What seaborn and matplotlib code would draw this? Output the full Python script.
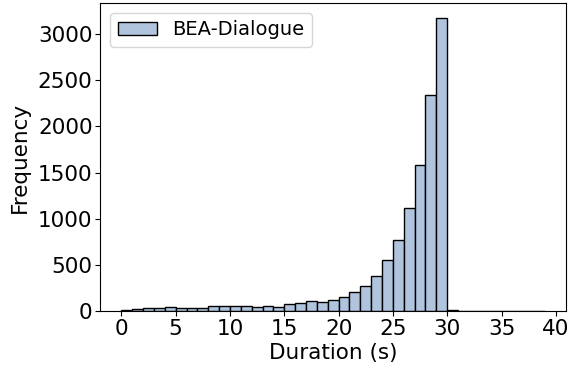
import numpy as np
import pandas as pd
import matplotlib
matplotlib.use("Agg")
import matplotlib.pyplot as plt
import seaborn as sns

bin_edges = list(range(0, 40))
counts = [10, 20, 35, 35, 45, 38, 37, 30, 54, 52, 52, 55, 48, 60, 50, 76, 83, 105, 97, 123,
          158, 206, 276, 380, 555, 775, 1115, 1585, 2335, 3175,
          12, 4, 3, 2, 2, 2, 1, 1, 1]
label = "BEA-Dialogue"

centers = [e + 0.5 for e in bin_edges[:-1]]
df = pd.DataFrame({"Duration (s)": centers, "w": counts})

plt.rcParams['font.family'] = ['DejaVu Sans']
fig = plt.figure(figsize=(5.69, 3.74), dpi=100)
ax = fig.add_axes([0.176, 0.168, 0.819, 0.824])
sns.histplot(data=df, x="Duration (s)", weights="w", bins=bin_edges,
             color="lightsteelblue", alpha=1.0, edgecolor="black", linewidth=1.0,
             label=label, ax=ax)
ax.set_xlabel("Duration (s)", fontsize=15.5, labelpad=3)
ax.set_ylabel("Frequency", fontsize=15.5, labelpad=6)
ax.tick_params(labelsize=15.5, pad=2)
ax.set_xticks(range(0, 41, 5))
ax.legend(fontsize=14, loc="upper left")
fig.savefig("out.png", dpi=100)
